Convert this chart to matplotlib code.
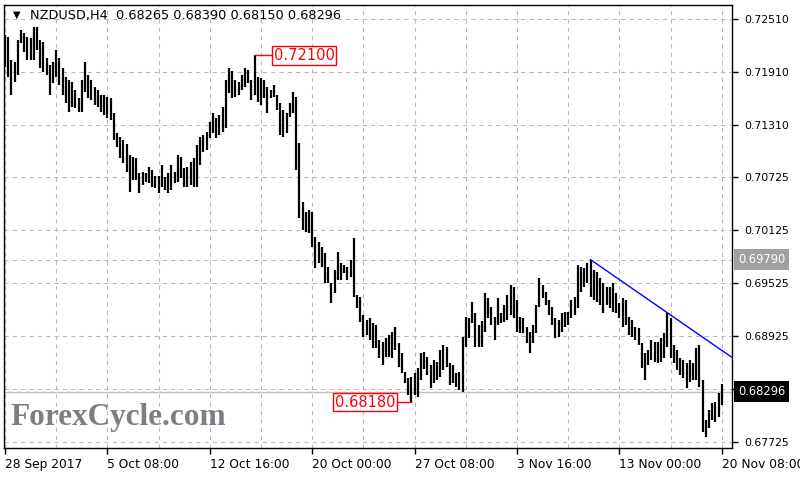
import matplotlib.pyplot as plt
from matplotlib.transforms import blended_transform_factory

# H4 bar highs / lows (bar 0 = 28 Sep 2017 00:00)
highs = [
    0.7233, 0.7231, 0.7205, 0.7202, 0.7227, 0.7239, 0.7235, 0.7231, 0.7230, 0.7242,
    0.7242, 0.7227, 0.7225, 0.7207, 0.7199, 0.7202, 0.7216, 0.7207, 0.7196, 0.7185,
    0.7182, 0.7180, 0.7171, 0.7162, 0.7182, 0.7202, 0.7188, 0.7182, 0.7174, 0.7171,
    0.7165, 0.7165, 0.7163, 0.7162, 0.7145, 0.7122, 0.7118, 0.7114, 0.7110, 0.7097,
    0.7095, 0.7094, 0.7077, 0.7078, 0.7077, 0.7084, 0.7080, 0.7074, 0.7074, 0.7086,
    0.7072, 0.7077, 0.7086, 0.7078, 0.7097, 0.7095, 0.7083, 0.7084, 0.7089, 0.7094,
    0.7109, 0.7118, 0.7120, 0.7123, 0.7135, 0.7145, 0.7139, 0.7143, 0.7152, 0.7182,
    0.7196, 0.7192, 0.7182, 0.7180, 0.7188, 0.7196, 0.7193, 0.7182, 0.7210, 0.7185,
    0.7184, 0.7182, 0.7174, 0.7171, 0.7176, 0.7165, 0.7156, 0.7148, 0.7145, 0.7156,
    0.7169, 0.7163, 0.7111, 0.7044, 0.7033, 0.7035, 0.7033, 0.7005, 0.6999, 0.6993,
    0.6987, 0.6971, 0.6953, 0.6967, 0.6988, 0.6975, 0.6973, 0.6971, 0.6979, 0.7004,
    0.6939, 0.6937, 0.6917, 0.6911, 0.6913, 0.6907, 0.6905, 0.6888, 0.6886, 0.6891,
    0.6894, 0.6897, 0.6903, 0.6885, 0.6874, 0.6852, 0.6845, 0.6846, 0.6851, 0.6857,
    0.6874, 0.6875, 0.6869, 0.6860, 0.6866, 0.6863, 0.6877, 0.6883, 0.6880, 0.6862,
    0.6860, 0.6851, 0.6852, 0.6892, 0.6914, 0.6913, 0.6931, 0.6919, 0.6905, 0.6910,
    0.6941, 0.6936, 0.6926, 0.6914, 0.6936, 0.6919, 0.6928, 0.6939, 0.6950, 0.6948,
    0.6933, 0.6914, 0.6913, 0.6903, 0.6897, 0.6905, 0.6928, 0.6958, 0.6950, 0.6942,
    0.6933, 0.6926, 0.6913, 0.6911, 0.6919, 0.6920, 0.6920, 0.6933, 0.6937, 0.6973,
    0.6971, 0.6970, 0.6975, 0.6979, 0.6967, 0.6965, 0.6958, 0.6953, 0.6948, 0.6948,
    0.6953, 0.6941, 0.6930, 0.6936, 0.6933, 0.6914, 0.6911, 0.6903, 0.6902, 0.6885,
    0.6874, 0.6877, 0.6888, 0.6886, 0.6886, 0.6891, 0.6896, 0.6919, 0.6913, 0.6883,
    0.6877, 0.6868, 0.6866, 0.6862, 0.6866, 0.6862, 0.6879, 0.6883, 0.6843, 0.6798,
    0.6809, 0.6817, 0.6818, 0.6828, 0.6839,
]
lows = [
    0.7197, 0.7185, 0.7165, 0.7180, 0.7188, 0.7224, 0.7214, 0.7205, 0.7205, 0.7205,
    0.7216, 0.7196, 0.7191, 0.7188, 0.7165, 0.7179, 0.7185, 0.7176, 0.7165, 0.7156,
    0.7146, 0.7152, 0.7150, 0.7146, 0.7146, 0.7169, 0.7162, 0.7159, 0.7154, 0.7152,
    0.7146, 0.7142, 0.7139, 0.7137, 0.7114, 0.7106, 0.7094, 0.7088, 0.7078, 0.7055,
    0.7069, 0.7069, 0.7054, 0.7063, 0.7067, 0.7066, 0.7061, 0.7060, 0.7054, 0.7061,
    0.7058, 0.7054, 0.7058, 0.7066, 0.7067, 0.7071, 0.7061, 0.7061, 0.7063, 0.7061,
    0.7061, 0.7086, 0.7101, 0.7103, 0.7117, 0.7122, 0.7117, 0.7120, 0.7123, 0.7128,
    0.7167, 0.7162, 0.7163, 0.7165, 0.7171, 0.7174, 0.7179, 0.7159, 0.7165, 0.7157,
    0.7154, 0.7162, 0.7145, 0.7162, 0.7163, 0.7148, 0.7120, 0.7118, 0.7122, 0.7140,
    0.7145, 0.7080, 0.7026, 0.7013, 0.7010, 0.7009, 0.6993, 0.6970, 0.6975, 0.6971,
    0.6953, 0.6953, 0.6930, 0.6941, 0.6956, 0.6956, 0.6964, 0.6956, 0.6959, 0.6937,
    0.6924, 0.6909, 0.6892, 0.6894, 0.6888, 0.6879, 0.6879, 0.6868, 0.6860, 0.6869,
    0.6869, 0.6868, 0.6877, 0.6858, 0.6851, 0.6840, 0.6826, 0.6818, 0.6826, 0.6824,
    0.6843, 0.6856, 0.6849, 0.6834, 0.6840, 0.6843, 0.6846, 0.6854, 0.6858, 0.6837,
    0.6840, 0.6835, 0.6832, 0.6830, 0.6880, 0.6890, 0.6907, 0.6880, 0.6880, 0.6880,
    0.6897, 0.6913, 0.6905, 0.6888, 0.6905, 0.6907, 0.6909, 0.6911, 0.6917, 0.6913,
    0.6897, 0.6896, 0.6896, 0.6885, 0.6874, 0.6885, 0.6896, 0.6926, 0.6936, 0.6928,
    0.6916, 0.6905, 0.6891, 0.6892, 0.6897, 0.6903, 0.6905, 0.6913, 0.6916, 0.6924,
    0.6942, 0.6948, 0.6953, 0.6937, 0.6933, 0.6931, 0.6928, 0.6919, 0.6928, 0.6924,
    0.6920, 0.6919, 0.6913, 0.6903, 0.6905, 0.6894, 0.6892, 0.6888, 0.6883, 0.6857,
    0.6843, 0.6860, 0.6866, 0.6863, 0.6862, 0.6863, 0.6868, 0.6880, 0.6868, 0.6862,
    0.6854, 0.6849, 0.6845, 0.6834, 0.6841, 0.6843, 0.6843, 0.6835, 0.6784, 0.6779,
    0.6789, 0.6798, 0.6795, 0.6801, 0.6815,
]
last_ohlc = ["0.68265", "0.68390", "0.68150", "0.68296"]
last_price = 0.68296

price_ticks = [0.72510, 0.71910, 0.71310, 0.70725, 0.70125, 0.69525, 0.68925, 0.68325, 0.67725]
date_ticks = [0, 32, 64, 96, 128, 160, 192, 224]
date_labels = ["28 Sep 2017", "5 Oct 08:00", "12 Oct 16:00", "20 Oct 00:00",
               "27 Oct 08:00", "3 Nov 16:00", "13 Nov 00:00", "20 Nov 08:00"]

hi_mark = (78, 0.72100)
lo_mark = (127, 0.68180)
resist_level = 0.69790
trend_pts = [(183, 0.69790), (207, 0.69190)]

plt.rcParams['font.family'] = ['DejaVu Sans']
fig = plt.figure(figsize=(8, 4.8), dpi=100)
ax = fig.add_axes([0.005, 0.0667, 0.91, 0.9229])
xmin, xmax = -0.3, 227.2
ax.set_xlim(xmin, xmax)
ax.set_ylim(0.67662, 0.72668)

grid_kw = dict(color='#b8b8b8', lw=0.75, ls=(0, (4, 4)), zorder=0)
for p in price_ticks:
    ax.axhline(p, **grid_kw)
for i in range(0, 225, 16):
    ax.axvline(i, **grid_kw)

# reference lines
ax.axhline(resist_level, **grid_kw)
ax.axhline(last_price, color='#c0c0c0', lw=1, zorder=1)

# price bars
idx = list(range(len(highs)))
ax.vlines(idx, lows, highs, color='black', lw=1.6, zorder=3)

# trend line from the 0.69790 top, extended to the right edge
(x0, y0), (x1, y1) = trend_pts
slope = (y1 - y0) / (x1 - x0)
ax.plot([x0, xmax], [y0, y0 + slope * (xmax - x0)], color='#0000ff', lw=1, zorder=4)

# red marker boxes
box = dict(boxstyle='square,pad=0.12', fc='white', ec='#ff0000', lw=1)
ax.plot([hi_mark[0], hi_mark[0] + 5.6], [hi_mark[1]] * 2, color='#ff0000', lw=1, zorder=4)
ax.text(hi_mark[0] + 6.0, hi_mark[1], "%.5f" % hi_mark[1], color='#ff0000', fontsize=10.5,
        ha='left', va='center', bbox=box, zorder=5)
ax.plot([lo_mark[0] - 4.5, lo_mark[0]], [lo_mark[1]] * 2, color='#ff0000', lw=1, zorder=4)
ax.text(lo_mark[0] - 4.9, lo_mark[1], "%.5f" % lo_mark[1], color='#ff0000', fontsize=10.5,
        ha='right', va='center', bbox=box, zorder=5)

# axes styling
for s in ax.spines.values():
    s.set_color('black')
    s.set_linewidth(1)
ax.yaxis.tick_right()
ax.set_yticks(price_ticks)
ax.set_yticklabels(["%.5f" % p if abs(p - 0.68325) > 1e-6 else "" for p in price_ticks])
ax.set_xticks(date_ticks)
ax.set_xticklabels(date_labels)
for lab in ax.get_xticklabels():
    lab.set_ha('left')
ax.tick_params(axis='both', length=4, width=1, color='black', labelcolor='black')
ax.tick_params(axis='x', labelsize=8.8, pad=3)
ax.tick_params(axis='y', labelsize=7.8, pad=5)

# right-side price tags
tr = blended_transform_factory(ax.transAxes, ax.transData)
tag_kw = dict(transform=tr, fontsize=8.3, color='white', ha='left', va='center', clip_on=False)
ax.text(1.008, resist_level, "%.5f" % resist_level,
        bbox=dict(boxstyle='square,pad=0.35', fc='#a0a0a0', ec='none'), **tag_kw)
ax.text(1.008, last_price, "%.5f" % last_price,
        bbox=dict(boxstyle='square,pad=0.35', fc='black', ec='none'), **tag_kw)

# header and watermark
fig.text(13 / 800, 1 - 15 / 480, "\u25bc", fontsize=7, color='black', ha='left', va='center')
fig.text(30 / 800, 1 - 15 / 480, "NZDUSD,H4  " + " ".join(last_ohlc), fontsize=9.3,
         color='black', ha='left', va='center')
fig.text(10 / 800, 1 - 418 / 480, "ForexCycle.com", fontsize=22.5, fontweight='bold',
         family='Liberation Serif', color='#7d7d86', ha='left', va='center')

fig.savefig('out.png', dpi=100, facecolor='white')
